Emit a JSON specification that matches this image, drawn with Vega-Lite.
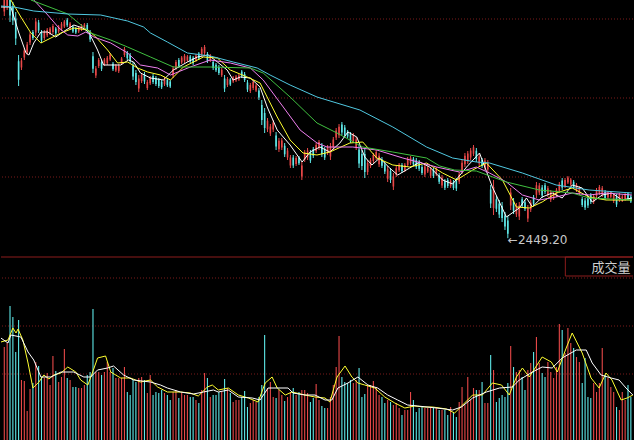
{
  "$schema": "https://vega.github.io/schema/vega-lite/v6.json",
  "width": 634,
  "height": 440,
  "autosize": {"type": "fit", "contains": "padding"},
  "padding": 0,
  "background": "#000000",
  "config": {"view": {"stroke": null}},
  "resolve": {"scale": {"y": "independent"}},
  "datasets": {
    "k": [
      {"i":0,"o":3356,"h":3426,"l":3338,"c":3408,"v":186},
      {"i":1,"o":3376,"h":3434,"l":3362,"c":3420,"v":194},
      {"i":2,"o":3416,"h":3442,"l":3314,"c":3340,"v":268},
      {"i":3,"o":3376,"h":3394,"l":3302,"c":3320,"v":246},
      {"i":4,"o":3328,"h":3354,"l":3222,"c":3248,"v":176},
      {"i":5,"o":3157,"h":3182,"l":3058,"c":3083,"v":240},
      {"i":6,"o":3132,"h":3170,"l":3122,"c":3160,"v":120},
      {"i":7,"o":3172,"h":3210,"l":3162,"c":3200,"v":118},
      {"i":8,"o":3192,"h":3234,"l":3182,"c":3224,"v":58},
      {"i":9,"o":3232,"h":3274,"l":3222,"c":3264,"v":102},
      {"i":10,"o":3274,"h":3282,"l":3242,"c":3250,"v":114},
      {"i":11,"o":3272,"h":3330,"l":3258,"c":3316,"v":156},
      {"i":12,"o":3312,"h":3322,"l":3270,"c":3280,"v":148},
      {"i":13,"o":3272,"h":3282,"l":3230,"c":3240,"v":126},
      {"i":14,"o":3250,"h":3282,"l":3242,"c":3274,"v":124},
      {"i":15,"o":3261,"h":3290,"l":3254,"c":3283,"v":134},
      {"i":16,"o":3268,"h":3294,"l":3262,"c":3288,"v":110},
      {"i":17,"o":3274,"h":3306,"l":3266,"c":3298,"v":168},
      {"i":18,"o":3288,"h":3294,"l":3262,"c":3268,"v":138},
      {"i":19,"o":3276,"h":3302,"l":3270,"c":3296,"v":116},
      {"i":20,"o":3285,"h":3314,"l":3278,"c":3307,"v":126},
      {"i":21,"o":3296,"h":3322,"l":3290,"c":3316,"v":182},
      {"i":22,"o":3323,"h":3330,"l":3294,"c":3301,"v":124},
      {"i":23,"o":3288,"h":3314,"l":3282,"c":3308,"v":120},
      {"i":24,"o":3296,"h":3302,"l":3270,"c":3276,"v":106},
      {"i":25,"o":3288,"h":3294,"l":3266,"c":3272,"v":106},
      {"i":26,"o":3276,"h":3298,"l":3270,"c":3292,"v":104},
      {"i":27,"o":3284,"h":3306,"l":3278,"c":3300,"v":104},
      {"i":28,"o":3288,"h":3310,"l":3282,"c":3304,"v":110},
      {"i":29,"o":3302,"h":3310,"l":3270,"c":3278,"v":130},
      {"i":30,"o":3272,"h":3282,"l":3234,"c":3244,"v":136},
      {"i":31,"o":3177,"h":3194,"l":3110,"c":3127,"v":262},
      {"i":32,"o":3100,"h":3138,"l":3090,"c":3128,"v":136},
      {"i":33,"o":3138,"h":3170,"l":3130,"c":3162,"v":136},
      {"i":34,"o":3153,"h":3162,"l":3118,"c":3127,"v":130},
      {"i":35,"o":3144,"h":3170,"l":3138,"c":3164,"v":136},
      {"i":36,"o":3149,"h":3178,"l":3142,"c":3171,"v":156},
      {"i":37,"o":3164,"h":3190,"l":3158,"c":3184,"v":136},
      {"i":38,"o":3147,"h":3154,"l":3118,"c":3125,"v":144},
      {"i":39,"o":3120,"h":3146,"l":3114,"c":3140,"v":124},
      {"i":40,"o":3117,"h":3146,"l":3110,"c":3139,"v":124},
      {"i":41,"o":3148,"h":3174,"l":3142,"c":3168,"v":124},
      {"i":42,"o":3182,"h":3214,"l":3174,"c":3206,"v":146},
      {"i":43,"o":3191,"h":3198,"l":3162,"c":3169,"v":96},
      {"i":44,"o":3182,"h":3190,"l":3150,"c":3158,"v":90},
      {"i":45,"o":3140,"h":3154,"l":3082,"c":3096,"v":120},
      {"i":46,"o":3110,"h":3122,"l":3062,"c":3074,"v":116},
      {"i":47,"o":3048,"h":3102,"l":3034,"c":3088,"v":124},
      {"i":48,"o":3078,"h":3110,"l":3070,"c":3102,"v":126},
      {"i":49,"o":3104,"h":3114,"l":3066,"c":3076,"v":120},
      {"i":50,"o":3050,"h":3082,"l":3042,"c":3074,"v":94},
      {"i":51,"o":3069,"h":3098,"l":3062,"c":3091,"v":130},
      {"i":52,"o":3098,"h":3106,"l":3066,"c":3074,"v":90},
      {"i":53,"o":3090,"h":3098,"l":3058,"c":3066,"v":96},
      {"i":54,"o":3082,"h":3090,"l":3050,"c":3058,"v":94},
      {"i":55,"o":3075,"h":3082,"l":3046,"c":3053,"v":100},
      {"i":56,"o":3065,"h":3094,"l":3058,"c":3087,"v":94},
      {"i":57,"o":3083,"h":3090,"l":3054,"c":3061,"v":90},
      {"i":58,"o":3076,"h":3082,"l":3050,"c":3056,"v":80},
      {"i":59,"o":3100,"h":3138,"l":3090,"c":3128,"v":96},
      {"i":60,"o":3130,"h":3162,"l":3122,"c":3154,"v":100},
      {"i":61,"o":3162,"h":3170,"l":3130,"c":3138,"v":84},
      {"i":62,"o":3152,"h":3178,"l":3146,"c":3172,"v":94},
      {"i":63,"o":3157,"h":3186,"l":3150,"c":3179,"v":90},
      {"i":64,"o":3160,"h":3182,"l":3154,"c":3176,"v":90},
      {"i":65,"o":3176,"h":3182,"l":3150,"c":3156,"v":86},
      {"i":66,"o":3171,"h":3178,"l":3142,"c":3149,"v":86},
      {"i":67,"o":3160,"h":3186,"l":3154,"c":3180,"v":80},
      {"i":68,"o":3188,"h":3194,"l":3162,"c":3168,"v":74},
      {"i":69,"o":3185,"h":3214,"l":3178,"c":3207,"v":100},
      {"i":70,"o":3190,"h":3222,"l":3182,"c":3214,"v":134},
      {"i":71,"o":3185,"h":3194,"l":3150,"c":3159,"v":124},
      {"i":72,"o":3160,"h":3186,"l":3154,"c":3180,"v":86},
      {"i":73,"o":3154,"h":3162,"l":3122,"c":3130,"v":90},
      {"i":74,"o":3143,"h":3150,"l":3114,"c":3121,"v":90},
      {"i":75,"o":3134,"h":3142,"l":3102,"c":3110,"v":96},
      {"i":76,"o":3101,"h":3130,"l":3094,"c":3123,"v":96},
      {"i":77,"o":3088,"h":3102,"l":3034,"c":3048,"v":122},
      {"i":78,"o":3062,"h":3094,"l":3054,"c":3086,"v":104},
      {"i":79,"o":3084,"h":3090,"l":3058,"c":3064,"v":94},
      {"i":80,"o":3076,"h":3098,"l":3070,"c":3092,"v":76},
      {"i":81,"o":3080,"h":3102,"l":3074,"c":3096,"v":80},
      {"i":82,"o":3084,"h":3106,"l":3078,"c":3100,"v":80},
      {"i":83,"o":3116,"h":3122,"l":3090,"c":3096,"v":86},
      {"i":84,"o":3106,"h":3114,"l":3074,"c":3082,"v":98},
      {"i":85,"o":3072,"h":3082,"l":3034,"c":3044,"v":66},
      {"i":86,"o":3038,"h":3070,"l":3030,"c":3062,"v":74},
      {"i":87,"o":3050,"h":3082,"l":3042,"c":3074,"v":80},
      {"i":88,"o":3040,"h":3066,"l":3034,"c":3060,"v":76},
      {"i":89,"o":3040,"h":3050,"l":3002,"c":3012,"v":86},
      {"i":90,"o":2982,"h":3002,"l":2902,"c":2922,"v":110},
      {"i":91,"o":2950,"h":2970,"l":2870,"c":2890,"v":210},
      {"i":92,"o":2885,"h":2930,"l":2874,"c":2919,"v":104},
      {"i":93,"o":2868,"h":2906,"l":2858,"c":2896,"v":116},
      {"i":94,"o":2884,"h":2922,"l":2874,"c":2912,"v":86},
      {"i":95,"o":2860,"h":2874,"l":2802,"c":2816,"v":84},
      {"i":96,"o":2805,"h":2850,"l":2794,"c":2839,"v":100},
      {"i":97,"o":2812,"h":2850,"l":2802,"c":2840,"v":90},
      {"i":98,"o":2819,"h":2830,"l":2774,"c":2785,"v":78},
      {"i":99,"o":2772,"h":2810,"l":2762,"c":2800,"v":86},
      {"i":100,"o":2740,"h":2782,"l":2730,"c":2772,"v":96},
      {"i":101,"o":2772,"h":2782,"l":2730,"c":2740,"v":104},
      {"i":102,"o":2746,"h":2778,"l":2738,"c":2770,"v":90},
      {"i":103,"o":2771,"h":2778,"l":2742,"c":2749,"v":96},
      {"i":104,"o":2696,"h":2754,"l":2682,"c":2740,"v":100},
      {"i":105,"o":2764,"h":2802,"l":2754,"c":2792,"v":100},
      {"i":106,"o":2772,"h":2810,"l":2762,"c":2800,"v":94},
      {"i":107,"o":2792,"h":2802,"l":2750,"c":2760,"v":76},
      {"i":108,"o":2805,"h":2814,"l":2770,"c":2779,"v":84},
      {"i":109,"o":2798,"h":2830,"l":2790,"c":2822,"v":112},
      {"i":110,"o":2810,"h":2842,"l":2802,"c":2834,"v":80},
      {"i":111,"o":2819,"h":2830,"l":2774,"c":2785,"v":68},
      {"i":112,"o":2804,"h":2814,"l":2762,"c":2772,"v":64},
      {"i":113,"o":2790,"h":2822,"l":2782,"c":2814,"v":64},
      {"i":114,"o":2776,"h":2830,"l":2762,"c":2816,"v":86},
      {"i":115,"o":2812,"h":2854,"l":2802,"c":2844,"v":110},
      {"i":116,"o":2852,"h":2890,"l":2842,"c":2880,"v":146},
      {"i":117,"o":2861,"h":2906,"l":2850,"c":2895,"v":208},
      {"i":118,"o":2904,"h":2914,"l":2862,"c":2872,"v":126},
      {"i":119,"o":2892,"h":2902,"l":2850,"c":2860,"v":116},
      {"i":120,"o":2876,"h":2882,"l":2850,"c":2856,"v":114},
      {"i":121,"o":2865,"h":2874,"l":2830,"c":2839,"v":120},
      {"i":122,"o":2838,"h":2870,"l":2830,"c":2862,"v":114},
      {"i":123,"o":2812,"h":2854,"l":2802,"c":2844,"v":120},
      {"i":124,"o":2804,"h":2822,"l":2730,"c":2748,"v":144},
      {"i":125,"o":2786,"h":2802,"l":2722,"c":2738,"v":86},
      {"i":126,"o":2786,"h":2810,"l":2690,"c":2714,"v":92},
      {"i":127,"o":2714,"h":2762,"l":2702,"c":2750,"v":110},
      {"i":128,"o":2738,"h":2770,"l":2730,"c":2762,"v":110},
      {"i":129,"o":2758,"h":2790,"l":2750,"c":2782,"v":118},
      {"i":130,"o":2770,"h":2802,"l":2762,"c":2794,"v":106},
      {"i":131,"o":2745,"h":2790,"l":2734,"c":2779,"v":90},
      {"i":132,"o":2765,"h":2774,"l":2730,"c":2739,"v":86},
      {"i":133,"o":2744,"h":2754,"l":2706,"c":2716,"v":74},
      {"i":134,"o":2687,"h":2738,"l":2674,"c":2725,"v":80},
      {"i":135,"o":2718,"h":2730,"l":2670,"c":2682,"v":76},
      {"i":136,"o":2656,"h":2710,"l":2642,"c":2696,"v":70},
      {"i":137,"o":2703,"h":2738,"l":2694,"c":2729,"v":74},
      {"i":138,"o":2721,"h":2750,"l":2714,"c":2743,"v":64},
      {"i":139,"o":2742,"h":2750,"l":2710,"c":2718,"v":50},
      {"i":140,"o":2721,"h":2750,"l":2714,"c":2743,"v":60},
      {"i":141,"o":2742,"h":2774,"l":2734,"c":2766,"v":60},
      {"i":142,"o":2749,"h":2778,"l":2742,"c":2771,"v":96},
      {"i":143,"o":2767,"h":2774,"l":2738,"c":2745,"v":80},
      {"i":144,"o":2761,"h":2770,"l":2726,"c":2735,"v":56},
      {"i":145,"o":2753,"h":2762,"l":2718,"c":2727,"v":64},
      {"i":146,"o":2734,"h":2742,"l":2702,"c":2710,"v":66},
      {"i":147,"o":2704,"h":2746,"l":2694,"c":2736,"v":64},
      {"i":148,"o":2716,"h":2738,"l":2710,"c":2732,"v":64},
      {"i":149,"o":2699,"h":2734,"l":2690,"c":2725,"v":66},
      {"i":150,"o":2722,"h":2730,"l":2690,"c":2698,"v":64},
      {"i":151,"o":2705,"h":2734,"l":2698,"c":2727,"v":64},
      {"i":152,"o":2701,"h":2710,"l":2666,"c":2675,"v":60},
      {"i":153,"o":2660,"h":2702,"l":2650,"c":2692,"v":60},
      {"i":154,"o":2677,"h":2686,"l":2642,"c":2651,"v":60},
      {"i":155,"o":2682,"h":2690,"l":2650,"c":2658,"v":50},
      {"i":156,"o":2657,"h":2686,"l":2650,"c":2679,"v":66},
      {"i":157,"o":2674,"h":2682,"l":2642,"c":2650,"v":56},
      {"i":158,"o":2680,"h":2690,"l":2638,"c":2648,"v":46},
      {"i":159,"o":2676,"h":2714,"l":2666,"c":2704,"v":76},
      {"i":160,"o":2717,"h":2762,"l":2706,"c":2751,"v":106},
      {"i":161,"o":2745,"h":2790,"l":2734,"c":2779,"v":70},
      {"i":162,"o":2756,"h":2798,"l":2746,"c":2788,"v":126},
      {"i":163,"o":2772,"h":2810,"l":2762,"c":2800,"v":80},
      {"i":164,"o":2787,"h":2822,"l":2778,"c":2813,"v":104},
      {"i":165,"o":2799,"h":2810,"l":2754,"c":2765,"v":100},
      {"i":166,"o":2748,"h":2786,"l":2738,"c":2776,"v":100},
      {"i":167,"o":2762,"h":2770,"l":2730,"c":2738,"v":116},
      {"i":168,"o":2732,"h":2770,"l":2722,"c":2760,"v":74},
      {"i":169,"o":2724,"h":2762,"l":2714,"c":2752,"v":74},
      {"i":170,"o":2644,"h":2662,"l":2570,"c":2588,"v":170},
      {"i":171,"o":2570,"h":2682,"l":2542,"c":2654,"v":140},
      {"i":172,"o":2605,"h":2618,"l":2554,"c":2567,"v":76},
      {"i":173,"o":2588,"h":2602,"l":2530,"c":2544,"v":84},
      {"i":174,"o":2578,"h":2594,"l":2514,"c":2530,"v":90},
      {"i":175,"o":2540,"h":2554,"l":2482,"c":2496,"v":86},
      {"i":176,"o":2520,"h":2538,"l":2449.2,"c":2467,"v":114},
      {"i":177,"o":2580,"h":2650,"l":2562,"c":2632,"v":188},
      {"i":178,"o":2597,"h":2610,"l":2546,"c":2559,"v":146},
      {"i":179,"o":2545,"h":2590,"l":2534,"c":2579,"v":136},
      {"i":180,"o":2536,"h":2594,"l":2522,"c":2580,"v":140},
      {"i":181,"o":2605,"h":2614,"l":2570,"c":2579,"v":126},
      {"i":182,"o":2593,"h":2602,"l":2558,"c":2567,"v":100},
      {"i":183,"o":2528,"h":2582,"l":2514,"c":2568,"v":140},
      {"i":184,"o":2564,"h":2602,"l":2554,"c":2592,"v":154},
      {"i":185,"o":2613,"h":2622,"l":2578,"c":2587,"v":176},
      {"i":186,"o":2623,"h":2674,"l":2610,"c":2661,"v":206},
      {"i":187,"o":2632,"h":2670,"l":2622,"c":2660,"v":154},
      {"i":188,"o":2652,"h":2662,"l":2610,"c":2620,"v":134},
      {"i":189,"o":2661,"h":2670,"l":2626,"c":2635,"v":126},
      {"i":190,"o":2623,"h":2658,"l":2614,"c":2649,"v":156},
      {"i":191,"o":2604,"h":2642,"l":2594,"c":2632,"v":136},
      {"i":192,"o":2608,"h":2634,"l":2602,"c":2628,"v":124},
      {"i":193,"o":2621,"h":2650,"l":2614,"c":2643,"v":146},
      {"i":194,"o":2639,"h":2674,"l":2630,"c":2665,"v":232},
      {"i":195,"o":2680,"h":2690,"l":2642,"c":2652,"v":220},
      {"i":196,"o":2658,"h":2690,"l":2650,"c":2682,"v":174},
      {"i":197,"o":2672,"h":2698,"l":2666,"c":2692,"v":224},
      {"i":198,"o":2664,"h":2690,"l":2658,"c":2684,"v":194},
      {"i":199,"o":2675,"h":2682,"l":2646,"c":2653,"v":184},
      {"i":200,"o":2641,"h":2670,"l":2634,"c":2663,"v":166},
      {"i":201,"o":2629,"h":2658,"l":2622,"c":2651,"v":156},
      {"i":202,"o":2606,"h":2614,"l":2574,"c":2582,"v":114},
      {"i":203,"o":2600,"h":2610,"l":2562,"c":2572,"v":164},
      {"i":204,"o":2608,"h":2618,"l":2570,"c":2580,"v":86},
      {"i":205,"o":2621,"h":2630,"l":2586,"c":2595,"v":84},
      {"i":206,"o":2594,"h":2626,"l":2586,"c":2618,"v":114},
      {"i":207,"o":2618,"h":2650,"l":2610,"c":2642,"v":96},
      {"i":208,"o":2630,"h":2662,"l":2622,"c":2654,"v":114},
      {"i":209,"o":2623,"h":2658,"l":2614,"c":2649,"v":184},
      {"i":210,"o":2634,"h":2642,"l":2602,"c":2610,"v":130},
      {"i":211,"o":2612,"h":2638,"l":2606,"c":2632,"v":124},
      {"i":212,"o":2615,"h":2634,"l":2610,"c":2629,"v":106},
      {"i":213,"o":2598,"h":2630,"l":2590,"c":2622,"v":96},
      {"i":214,"o":2616,"h":2626,"l":2574,"c":2584,"v":66},
      {"i":215,"o":2601,"h":2630,"l":2594,"c":2623,"v":60},
      {"i":216,"o":2600,"h":2622,"l":2594,"c":2616,"v":96},
      {"i":217,"o":2604,"h":2630,"l":2598,"c":2624,"v":80},
      {"i":218,"o":2628,"h":2634,"l":2602,"c":2608,"v":110},
      {"i":219,"o":2616,"h":2622,"l":2590,"c":2596,"v":86}
    ],
    "ma": [
      {"k":"ma5","i":-1.2,"p":3374},{"k":"ma5","i":2.3,"p":3374},{"k":"ma5","i":5.1,"p":3270},{"k":"ma5","i":7.6,"p":3190},
      {"k":"ma5","i":8.6,"p":3182},{"k":"ma5","i":10.3,"p":3230},{"k":"ma5","i":12.8,"p":3274},{"k":"ma5","i":15.2,"p":3274},
      {"k":"ma5","i":18,"p":3254},{"k":"ma5","i":20.5,"p":3274},{"k":"ma5","i":24.3,"p":3302},{"k":"ma5","i":27.4,"p":3290},
      {"k":"ma5","i":29.5,"p":3274},{"k":"ma5","i":32.6,"p":3202},{"k":"ma5","i":34.7,"p":3142},{"k":"ma5","i":38.2,"p":3142},
      {"k":"ma5","i":40.7,"p":3142},{"k":"ma5","i":43.4,"p":3162},{"k":"ma5","i":45.2,"p":3154},{"k":"ma5","i":47.6,"p":3110},
      {"k":"ma5","i":51.1,"p":3090},{"k":"ma5","i":55.6,"p":3082},{"k":"ma5","i":59.1,"p":3122},{"k":"ma5","i":64,"p":3154},
      {"k":"ma5","i":67.5,"p":3174},{"k":"ma5","i":71.3,"p":3182},{"k":"ma5","i":74.5,"p":3154},{"k":"ma5","i":77.9,"p":3122},
      {"k":"ma5","i":80,"p":3082},{"k":"ma5","i":82.5,"p":3094},{"k":"ma5","i":86,"p":3090},{"k":"ma5","i":89.4,"p":3054},
      {"k":"ma5","i":91.9,"p":2974},{"k":"ma5","i":95.4,"p":2882},{"k":"ma5","i":99.9,"p":2822},{"k":"ma5","i":104.1,"p":2754},
      {"k":"ma5","i":106.9,"p":2794},{"k":"ma5","i":110.3,"p":2814},{"k":"ma5","i":113.8,"p":2794},{"k":"ma5","i":117.3,"p":2830},
      {"k":"ma5","i":120.1,"p":2874},{"k":"ma5","i":123.2,"p":2854},{"k":"ma5","i":126,"p":2774},{"k":"ma5","i":128.5,"p":2742},
      {"k":"ma5","i":131.2,"p":2770},{"k":"ma5","i":134.7,"p":2730},{"k":"ma5","i":137.5,"p":2702},{"k":"ma5","i":141.7,"p":2730},
      {"k":"ma5","i":145.2,"p":2754},{"k":"ma5","i":148.7,"p":2734},{"k":"ma5","i":153.2,"p":2682},{"k":"ma5","i":156.7,"p":2666},
      {"k":"ma5","i":161.6,"p":2734},{"k":"ma5","i":166.1,"p":2790},{"k":"ma5","i":170.6,"p":2654},{"k":"ma5","i":175.5,"p":2534},
      {"k":"ma5","i":180,"p":2570},{"k":"ma5","i":182.5,"p":2610},{"k":"ma5","i":184.6,"p":2574},{"k":"ma5","i":188,"p":2614},
      {"k":"ma5","i":191.5,"p":2630},{"k":"ma5","i":195,"p":2610},{"k":"ma5","i":198.5,"p":2662},{"k":"ma5","i":202,"p":2650},
      {"k":"ma5","i":205.5,"p":2594},{"k":"ma5","i":209,"p":2622},{"k":"ma5","i":212.4,"p":2630},{"k":"ma5","i":215.9,"p":2602},
      {"k":"ma5","i":219.4,"p":2610},
      {"k":"ma10","i":-1.2,"p":3442},{"k":"ma10","i":2.3,"p":3402},{"k":"ma10","i":5.8,"p":3334},{"k":"ma10","i":9.3,"p":3270},
      {"k":"ma10","i":12.8,"p":3230},{"k":"ma10","i":16.3,"p":3250},{"k":"ma10","i":19.8,"p":3270},{"k":"ma10","i":24.3,"p":3290},
      {"k":"ma10","i":29.2,"p":3282},{"k":"ma10","i":32,"p":3254},{"k":"ma10","i":36.1,"p":3202},{"k":"ma10","i":39.6,"p":3150},
      {"k":"ma10","i":43.1,"p":3154},{"k":"ma10","i":46.6,"p":3130},{"k":"ma10","i":50.1,"p":3114},{"k":"ma10","i":54.6,"p":3102},
      {"k":"ma10","i":58.1,"p":3082},{"k":"ma10","i":62.6,"p":3134},{"k":"ma10","i":69.6,"p":3174},{"k":"ma10","i":74.5,"p":3170},
      {"k":"ma10","i":79,"p":3122},{"k":"ma10","i":84.9,"p":3094},{"k":"ma10","i":89.4,"p":3070},{"k":"ma10","i":95.4,"p":2934},
      {"k":"ma10","i":99.9,"p":2842},{"k":"ma10","i":104.4,"p":2790},{"k":"ma10","i":109.3,"p":2782},{"k":"ma10","i":113.8,"p":2794},
      {"k":"ma10","i":120.8,"p":2830},{"k":"ma10","i":125.3,"p":2834},{"k":"ma10","i":130.2,"p":2770},{"k":"ma10","i":135.8,"p":2742},
      {"k":"ma10","i":141.7,"p":2734},{"k":"ma10","i":147.6,"p":2750},{"k":"ma10","i":153.2,"p":2710},{"k":"ma10","i":158.1,"p":2682},
      {"k":"ma10","i":163.7,"p":2722},{"k":"ma10","i":168.5,"p":2750},{"k":"ma10","i":174.1,"p":2682},{"k":"ma10","i":179,"p":2574},
      {"k":"ma10","i":183.5,"p":2570},{"k":"ma10","i":188,"p":2594},{"k":"ma10","i":192.9,"p":2630},{"k":"ma10","i":198.5,"p":2650},
      {"k":"ma10","i":204.4,"p":2614},{"k":"ma10","i":210.3,"p":2602},{"k":"ma10","i":219.4,"p":2602},
      {"k":"ma20","i":2.3,"p":3502},{"k":"ma20","i":10.3,"p":3402},{"k":"ma20","i":15.2,"p":3342},{"k":"ma20","i":19.1,"p":3290},
      {"k":"ma20","i":22.2,"p":3262},{"k":"ma20","i":25.7,"p":3258},{"k":"ma20","i":28.5,"p":3274},{"k":"ma20","i":31.3,"p":3254},
      {"k":"ma20","i":37.2,"p":3230},{"k":"ma20","i":43.1,"p":3190},{"k":"ma20","i":47.6,"p":3142},{"k":"ma20","i":53.6,"p":3130},
      {"k":"ma20","i":58.1,"p":3102},{"k":"ma20","i":65,"p":3134},{"k":"ma20","i":72,"p":3162},{"k":"ma20","i":79,"p":3150},
      {"k":"ma20","i":86,"p":3130},{"k":"ma20","i":90.5,"p":3082},{"k":"ma20","i":97.5,"p":2974},{"k":"ma20","i":103.4,"p":2882},
      {"k":"ma20","i":109.3,"p":2830},{"k":"ma20","i":112.8,"p":2814},{"k":"ma20","i":121.8,"p":2814},{"k":"ma20","i":130.2,"p":2802},
      {"k":"ma20","i":139.3,"p":2770},{"k":"ma20","i":151.1,"p":2734},{"k":"ma20","i":159.1,"p":2714},{"k":"ma20","i":165,"p":2734},
      {"k":"ma20","i":169.6,"p":2710},{"k":"ma20","i":175.5,"p":2674},{"k":"ma20","i":181.1,"p":2622},{"k":"ma20","i":187,"p":2602},
      {"k":"ma20","i":192.9,"p":2614},{"k":"ma20","i":198.5,"p":2630},{"k":"ma20","i":204.4,"p":2622},{"k":"ma20","i":210.3,"p":2630},
      {"k":"ma20","i":219.4,"p":2622},
      {"k":"ma30","i":5.8,"p":3442},{"k":"ma30","i":9.3,"p":3402},{"k":"ma30","i":22.2,"p":3346},{"k":"ma30","i":30.2,"p":3270},
      {"k":"ma30","i":37.2,"p":3242},{"k":"ma30","i":43.1,"p":3214},{"k":"ma30","i":51.1,"p":3174},{"k":"ma30","i":59.1,"p":3134},
      {"k":"ma30","i":72,"p":3134},{"k":"ma30","i":86,"p":3130},{"k":"ma30","i":90.5,"p":3110},{"k":"ma30","i":99.9,"p":3014},
      {"k":"ma30","i":109.3,"p":2910},{"k":"ma30","i":116.3,"p":2870},{"k":"ma30","i":125.3,"p":2814},{"k":"ma30","i":135.8,"p":2794},
      {"k":"ma30","i":147.6,"p":2770},{"k":"ma30","i":152.2,"p":2738},{"k":"ma30","i":157.4,"p":2722},{"k":"ma30","i":165,"p":2718},
      {"k":"ma30","i":175.5,"p":2674},{"k":"ma30","i":187,"p":2642},{"k":"ma30","i":198.5,"p":2630},{"k":"ma30","i":204.4,"p":2610},
      {"k":"ma30","i":219.4,"p":2602},
      {"k":"ma60","i":-1.2,"p":3378},{"k":"ma60","i":3.4,"p":3374},{"k":"ma60","i":10.3,"p":3358},{"k":"ma60","i":22.2,"p":3346},
      {"k":"ma60","i":33.7,"p":3342},{"k":"ma60","i":43.1,"p":3318},{"k":"ma60","i":48.7,"p":3294},{"k":"ma60","i":51.1,"p":3270},
      {"k":"ma60","i":57,"p":3234},{"k":"ma60","i":64,"p":3190},{"k":"ma60","i":72,"p":3178},{"k":"ma60","i":80,"p":3154},
      {"k":"ma60","i":88.4,"p":3130},{"k":"ma60","i":92.9,"p":3102},{"k":"ma60","i":99.9,"p":3062},{"k":"ma60","i":109.3,"p":3014},
      {"k":"ma60","i":124.3,"p":2962},{"k":"ma60","i":135.8,"p":2894},{"k":"ma60","i":147.6,"p":2814},{"k":"ma60","i":156.7,"p":2770},
      {"k":"ma60","i":165,"p":2754},{"k":"ma60","i":169.6,"p":2750},{"k":"ma60","i":181.1,"p":2710},{"k":"ma60","i":192.9,"p":2662},
      {"k":"ma60","i":204.4,"p":2642},{"k":"ma60","i":219.4,"p":2630}
    ],
    "vma": [
      {"k":"v5","i":-1.2,"v":196},{"k":"v5","i":1.3,"v":200},{"k":"v5","i":3,"v":224},{"k":"v5","i":4.1,"v":214},
      {"k":"v5","i":4.8,"v":222},{"k":"v5","i":6.5,"v":200},{"k":"v5","i":8.3,"v":154},{"k":"v5","i":10,"v":104},
      {"k":"v5","i":12.1,"v":116},{"k":"v5","i":13.8,"v":130},{"k":"v5","i":15.6,"v":122},{"k":"v5","i":17.3,"v":130},
      {"k":"v5","i":19.8,"v":134},{"k":"v5","i":22.2,"v":146},{"k":"v5","i":25,"v":136},{"k":"v5","i":26.7,"v":120},
      {"k":"v5","i":29.2,"v":110},{"k":"v5","i":30.9,"v":136},{"k":"v5","i":32.6,"v":164},{"k":"v5","i":35.4,"v":168},
      {"k":"v5","i":37.2,"v":136},{"k":"v5","i":40.7,"v":124},{"k":"v5","i":44.1,"v":124},{"k":"v5","i":47.6,"v":116},
      {"k":"v5","i":51.1,"v":120},{"k":"v5","i":53.6,"v":106},{"k":"v5","i":57,"v":96},{"k":"v5","i":61.6,"v":96},
      {"k":"v5","i":65,"v":94},{"k":"v5","i":67.8,"v":88},{"k":"v5","i":71,"v":106},{"k":"v5","i":72.7,"v":110},
      {"k":"v5","i":74.8,"v":100},{"k":"v5","i":78.3,"v":104},{"k":"v5","i":81.8,"v":90},{"k":"v5","i":85.3,"v":84},
      {"k":"v5","i":88.7,"v":76},{"k":"v5","i":91.2,"v":114},{"k":"v5","i":93.6,"v":126},{"k":"v5","i":95.4,"v":104},
      {"k":"v5","i":98.2,"v":90},{"k":"v5","i":100.6,"v":96},{"k":"v5","i":105.1,"v":90},{"k":"v5","i":108.6,"v":86},
      {"k":"v5","i":112.1,"v":84},{"k":"v5","i":113.8,"v":76},{"k":"v5","i":116.3,"v":126},{"k":"v5","i":119.1,"v":148},
      {"k":"v5","i":121.5,"v":126},{"k":"v5","i":123.6,"v":114},{"k":"v5","i":126,"v":110},{"k":"v5","i":129.5,"v":104},
      {"k":"v5","i":133,"v":86},{"k":"v5","i":136.5,"v":74},{"k":"v5","i":140,"v":64},{"k":"v5","i":143.4,"v":68},
      {"k":"v5","i":146.9,"v":66},{"k":"v5","i":149.7,"v":66},{"k":"v5","i":154.6,"v":62},{"k":"v5","i":157.4,"v":54},
      {"k":"v5","i":160.2,"v":70},{"k":"v5","i":163.7,"v":90},{"k":"v5","i":167.1,"v":90},{"k":"v5","i":170.6,"v":114},
      {"k":"v5","i":173.8,"v":110},{"k":"v5","i":176.5,"v":90},{"k":"v5","i":179,"v":126},{"k":"v5","i":181.1,"v":144},
      {"k":"v5","i":183.5,"v":126},{"k":"v5","i":188,"v":166},{"k":"v5","i":191.2,"v":156},{"k":"v5","i":193.3,"v":136},
      {"k":"v5","i":196.4,"v":184},{"k":"v5","i":198.5,"v":214},{"k":"v5","i":202,"v":174},{"k":"v5","i":205.1,"v":124},
      {"k":"v5","i":207.9,"v":104},{"k":"v5","i":210.3,"v":134},{"k":"v5","i":212.4,"v":120},{"k":"v5","i":215.6,"v":80},
      {"k":"v5","i":217.7,"v":84},{"k":"v5","i":219.7,"v":90},
      {"k":"v10","i":-1.2,"v":204},{"k":"v10","i":1.3,"v":194},{"k":"v10","i":2.3,"v":210},{"k":"v10","i":5.8,"v":206},
      {"k":"v10","i":8.3,"v":176},{"k":"v10","i":10.3,"v":160},{"k":"v10","i":12.8,"v":126},{"k":"v10","i":16.3,"v":126},
      {"k":"v10","i":19.8,"v":136},{"k":"v10","i":24.3,"v":136},{"k":"v10","i":27.8,"v":126},{"k":"v10","i":30.2,"v":126},
      {"k":"v10","i":32.6,"v":140},{"k":"v10","i":36.1,"v":144},{"k":"v10","i":38.2,"v":148},{"k":"v10","i":41.7,"v":130},
      {"k":"v10","i":45.2,"v":120},{"k":"v10","i":51.1,"v":116},{"k":"v10","i":54.6,"v":110},{"k":"v10","i":57,"v":104},
      {"k":"v10","i":61.6,"v":96},{"k":"v10","i":66.1,"v":92},{"k":"v10","i":69.6,"v":96},{"k":"v10","i":73.1,"v":100},
      {"k":"v10","i":74.8,"v":96},{"k":"v10","i":78.3,"v":100},{"k":"v10","i":81.8,"v":86},{"k":"v10","i":86.7,"v":84},
      {"k":"v10","i":89.4,"v":80},{"k":"v10","i":92.2,"v":104},{"k":"v10","i":99.2,"v":104},{"k":"v10","i":100.9,"v":94},
      {"k":"v10","i":105.1,"v":90},{"k":"v10","i":108.6,"v":90},{"k":"v10","i":112.1,"v":80},{"k":"v10","i":114.5,"v":80},
      {"k":"v10","i":116.6,"v":104},{"k":"v10","i":120.1,"v":114},{"k":"v10","i":123.6,"v":126},{"k":"v10","i":127.1,"v":110},
      {"k":"v10","i":130.5,"v":104},{"k":"v10","i":134,"v":90},{"k":"v10","i":137.5,"v":80},{"k":"v10","i":141,"v":70},
      {"k":"v10","i":144.5,"v":68},{"k":"v10","i":151.1,"v":64},{"k":"v10","i":156.7,"v":60},{"k":"v10","i":159.8,"v":66},
      {"k":"v10","i":163.7,"v":84},{"k":"v10","i":168.5,"v":96},{"k":"v10","i":173.1,"v":104},{"k":"v10","i":177.6,"v":106},
      {"k":"v10","i":180,"v":120},{"k":"v10","i":184.6,"v":136},{"k":"v10","i":188,"v":146},{"k":"v10","i":191.5,"v":144},
      {"k":"v10","i":195,"v":164},{"k":"v10","i":199.9,"v":180},{"k":"v10","i":203.4,"v":180},{"k":"v10","i":205.5,"v":154},
      {"k":"v10","i":208.6,"v":130},{"k":"v10","i":212.1,"v":124},{"k":"v10","i":214.9,"v":120},{"k":"v10","i":217.3,"v":104},
      {"k":"v10","i":219.7,"v":90}
    ]
  },
  "layer": [
    {
      "data": {"values": [{"p": 3326}, {"p": 3010}, {"p": 2694}]},
      "mark": {"type": "rule", "color": "#7a1a1a", "strokeDash": [1, 2], "strokeWidth": 1},
      "encoding": {
        "y": {"field": "p", "type": "quantitative", "scale": {"domain": [1642, 3402], "nice": false, "zero": false}, "axis": null}
      }
    },
    {
      "data": {"values": [{"v": 324}, {"v": 228}, {"v": 132}]},
      "mark": {"type": "rule", "color": "#7a1a1a", "strokeDash": [1, 2], "strokeWidth": 1},
      "encoding": {
        "y": {"field": "v", "type": "quantitative", "scale": {"domain": [0, 880], "nice": false}, "axis": null}
      }
    },
    {
      "data": {"values": [{"i": 196.1, "i2": 221, "p": 2374, "p2": 2298}]},
      "mark": {"type": "rect", "fill": "#000000", "stroke": "#8c1c1c", "strokeWidth": 1, "clip": true},
      "encoding": {
        "x": {"field": "i", "type": "quantitative", "scale": {"domain": [-1.15, 219.75], "nice": false, "zero": false}, "axis": null},
        "x2": {"field": "i2"},
        "y": {"field": "p", "type": "quantitative", "scale": {"domain": [1642, 3402], "nice": false, "zero": false}, "axis": null},
        "y2": {"field": "p2"}
      }
    },
    {
      "data": {"values": [{"p": 2374}]},
      "mark": {"type": "rule", "color": "#8c1c1c", "strokeWidth": 1},
      "encoding": {
        "y": {"field": "p", "type": "quantitative", "scale": {"domain": [1642, 3402], "nice": false, "zero": false}, "axis": null}
      }
    },
    {
      "data": {"values": [{"i": 212.1, "p": 2330, "t": "成交量"}]},
      "mark": {"type": "text", "color": "#d0d0d0", "font": "Noto Sans CJK SC", "fontSize": 13, "align": "center", "baseline": "middle"},
      "encoding": {
        "x": {"field": "i", "type": "quantitative", "scale": {"domain": [-1.15, 219.75], "nice": false, "zero": false}, "axis": null},
        "y": {"field": "p", "type": "quantitative", "scale": {"domain": [1642, 3402], "nice": false, "zero": false}, "axis": null},
        "text": {"field": "t"}
      }
    },
    {
      "data": {"name": "k"},
      "mark": {"type": "rule", "strokeWidth": 1.1, "clip": true},
      "encoding": {
        "x": {"field": "i", "type": "quantitative", "scale": {"domain": [-1.15, 219.75], "nice": false, "zero": false}, "axis": null},
        "y": {"field": "v", "type": "quantitative", "scale": {"domain": [0, 880], "nice": false}, "axis": null},
        "y2": {"datum": 0},
        "color": {"condition": {"test": "datum.c >= datum.o", "value": "#e84848"}, "value": "#5ee8e8"}
      }
    },
    {
      "data": {"name": "vma"},
      "mark": {"type": "line", "strokeWidth": 1, "clip": true},
      "encoding": {
        "x": {"field": "i", "type": "quantitative", "scale": {"domain": [-1.15, 219.75], "nice": false, "zero": false}, "axis": null},
        "y": {"field": "v", "type": "quantitative", "scale": {"domain": [0, 880], "nice": false}, "axis": null},
        "color": {"field": "k", "type": "nominal", "scale": {"domain": ["ma5", "ma10", "ma20", "ma30", "ma60", "v5", "v10"], "range": ["#ffffff", "#ffff30", "#f080f0", "#40c040", "#50c8e0", "#ffff30", "#ffffff"]}, "legend": null}
      }
    },
    {
      "data": {"name": "k"},
      "mark": {"type": "rule", "strokeWidth": 1, "clip": true},
      "encoding": {
        "x": {"field": "i", "type": "quantitative", "scale": {"domain": [-1.15, 219.75], "nice": false, "zero": false}, "axis": null},
        "y": {"field": "h", "type": "quantitative", "scale": {"domain": [1642, 3402], "nice": false, "zero": false}, "axis": null},
        "y2": {"field": "l"},
        "color": {"condition": {"test": "datum.c >= datum.o", "value": "#e84848"}, "value": "#5ee8e8"}
      }
    },
    {
      "data": {"name": "k"},
      "mark": {"type": "rule", "strokeWidth": 1.6, "clip": true},
      "encoding": {
        "x": {"field": "i", "type": "quantitative", "scale": {"domain": [-1.15, 219.75], "nice": false, "zero": false}, "axis": null},
        "y": {"field": "o", "type": "quantitative", "scale": {"domain": [1642, 3402], "nice": false, "zero": false}, "axis": null},
        "y2": {"field": "c"},
        "color": {"condition": {"test": "datum.c >= datum.o", "value": "#e84848"}, "value": "#5ee8e8"}
      }
    },
    {
      "data": {"name": "ma"},
      "mark": {"type": "line", "strokeWidth": 1, "clip": true},
      "encoding": {
        "x": {"field": "i", "type": "quantitative", "scale": {"domain": [-1.15, 219.75], "nice": false, "zero": false}, "axis": null},
        "y": {"field": "p", "type": "quantitative", "scale": {"domain": [1642, 3402], "nice": false, "zero": false}, "axis": null},
        "color": {"field": "k", "type": "nominal", "scale": {"domain": ["ma5", "ma10", "ma20", "ma30", "ma60", "v5", "v10"], "range": ["#ffffff", "#ffff30", "#f080f0", "#40c040", "#50c8e0", "#ffff30", "#ffffff"]}, "legend": null}
      }
    },
    {
      "data": {"values": [{"i": 176, "p": 2449.2, "t": "←2449.20"}]},
      "mark": {"type": "text", "color": "#c8c8c8", "font": "DejaVu Sans", "fontSize": 12, "align": "left", "baseline": "middle", "dy": 2},
      "encoding": {
        "x": {"field": "i", "type": "quantitative", "scale": {"domain": [-1.15, 219.75], "nice": false, "zero": false}, "axis": null},
        "y": {"field": "p", "type": "quantitative", "scale": {"domain": [1642, 3402], "nice": false, "zero": false}, "axis": null},
        "text": {"field": "t"}
      }
    }
  ]
}
